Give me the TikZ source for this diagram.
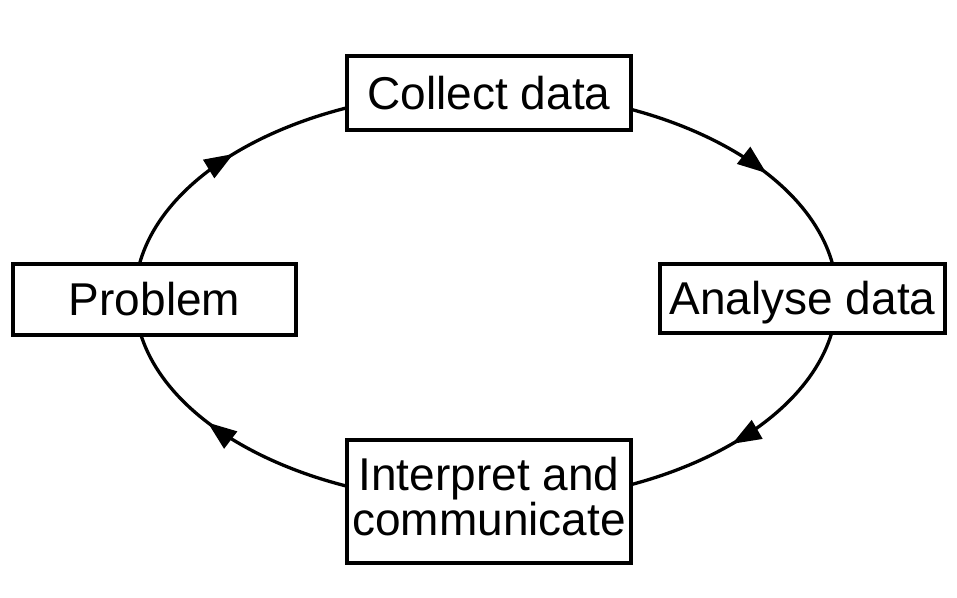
\documentclass[tikz,border=0pt]{standalone}
\usepackage{fontspec}
\setmainfont{Liberation Sans}
\usetikzlibrary{arrows.meta,backgrounds,calc,decorations.markings}
\begin{document}
\begin{tikzpicture}[x=1pt,y=1pt,
  box/.style={draw, line width=3.6pt, fill=white, inner sep=0pt, font=\fontsize{46}{45}\selectfont},
  onebox/.style={box, text height=33pt, text depth=0pt},
  cycleline/.style={line width=3.3pt},
  midtip/.style={postaction={decorate}, decoration={markings,
      mark=at position #1 with {\arrow{Triangle[length=29pt,width=21pt]}}}},
  ell/.style={x radius=351pt, y radius=206pt}]
\useasboundingbox (0,0) rectangle (957,597);
\node[onebox, minimum width=284.5pt, minimum height=74.5pt] (collect) at (489,504) {Collect data};
\node[onebox, minimum width=283.5pt, minimum height=71.5pt] (problem) at (154.5,297.5) {Problem};
\node[onebox, minimum width=285.5pt, minimum height=69.5pt] (analyse) at (802.5,298.5) {Analyse data};
\node[box, align=center, minimum width=284.5pt, minimum height=123.5pt] (interp) at (489,95.5)
  {Interpret and\\communicate\rule[-10pt]{0pt}{10pt}};
\coordinate (c) at (486,300);
\coordinate (e0) at ($(c)+(0:351pt and 206pt)$);
\coordinate (e90) at ($(c)+(90:351pt and 206pt)$);
\coordinate (e180) at ($(c)+(180:351pt and 206pt)$);
\coordinate (e270) at ($(c)+(270:351pt and 206pt)$);
\begin{scope}[on background layer]
  % Problem -> Collect data
  \draw[cycleline, midtip=0.408] (e180) arc[ell, start angle=180, end angle=90];
  % Collect data -> Analyse data
  \draw[cycleline, midtip=0.668] (e90) arc[ell, start angle=90, end angle=0];
  % Analyse data -> Interpret
  \draw[cycleline, midtip=0.425] (e0) arc[ell, start angle=0, end angle=-90];
  % Interpret -> Problem
  \draw[cycleline, midtip=0.662] (e270) arc[ell, start angle=-90, end angle=-180];
\end{scope}
\end{tikzpicture}
\end{document}
